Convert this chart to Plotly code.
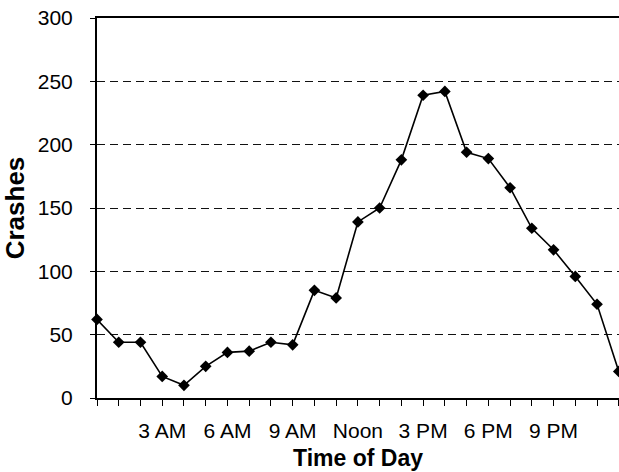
import plotly.graph_objects as go

hours = list(range(25))
crashes = [62, 44, 44, 17, 10, 25, 36, 37, 44, 42, 85, 79, 139, 150, 188, 239, 242, 194, 189, 166, 134, 117, 96, 74, 21]
tick_positions = list(range(25))
tick_labels = ["", "", "", "3 AM", "", "", "6 AM", "", "", "9 AM", "", "", "Noon", "", "",
               "3 PM", "", "", "6 PM", "", "", "9 PM", "", "", ""]
y_ticks = [0, 50, 100, 150, 200, 250, 300]

FONT = "Liberation Sans, Arial, sans-serif"

fig = go.Figure()
fig.add_trace(go.Scatter(
    x=hours, y=crashes, mode="lines+markers",
    line=dict(color="black", width=1.6),
    marker=dict(symbol="diamond", size=9, color="black", line=dict(width=0)),
    cliponaxis=False, showlegend=False,
))

fig.update_layout(
    width=619, height=472,
    margin=dict(l=97, r=0, t=18, b=74),
    paper_bgcolor="white", plot_bgcolor="white",
    font=dict(family=FONT, color="black", size=21),
    xaxis=dict(
        range=[0, 24.01], tickmode="array", tickvals=tick_positions, ticktext=tick_labels,
        ticks="outside", ticklen=6, tickwidth=1, tickcolor="black",
        showline=True, linecolor="black", linewidth=2, mirror=True,
        showgrid=False, zeroline=False, ticklabelstandoff=7,
        tickfont=dict(size=21),
        title=dict(text="<b>Time of Day</b>", font=dict(size=23), standoff=9),
    ),
    yaxis=dict(
        range=[0, 300], tickmode="array", tickvals=y_ticks,
        ticks="outside", ticklen=5, tickwidth=1, tickcolor="black",
        showline=True, linecolor="black", linewidth=2,
        showgrid=True, gridcolor="#111111", gridwidth=1, griddash="8px,5px",
        zeroline=False, ticklabelstandoff=13,
        tickfont=dict(size=21),
        title=dict(text="<b>Crashes</b>", font=dict(size=26), standoff=9),
    ),
)

fig.write_html(
    "out.html",
    config={"displayModeBar": False},
    post_script="document.body.style.margin='0';document.body.style.overflow='hidden';",
)
